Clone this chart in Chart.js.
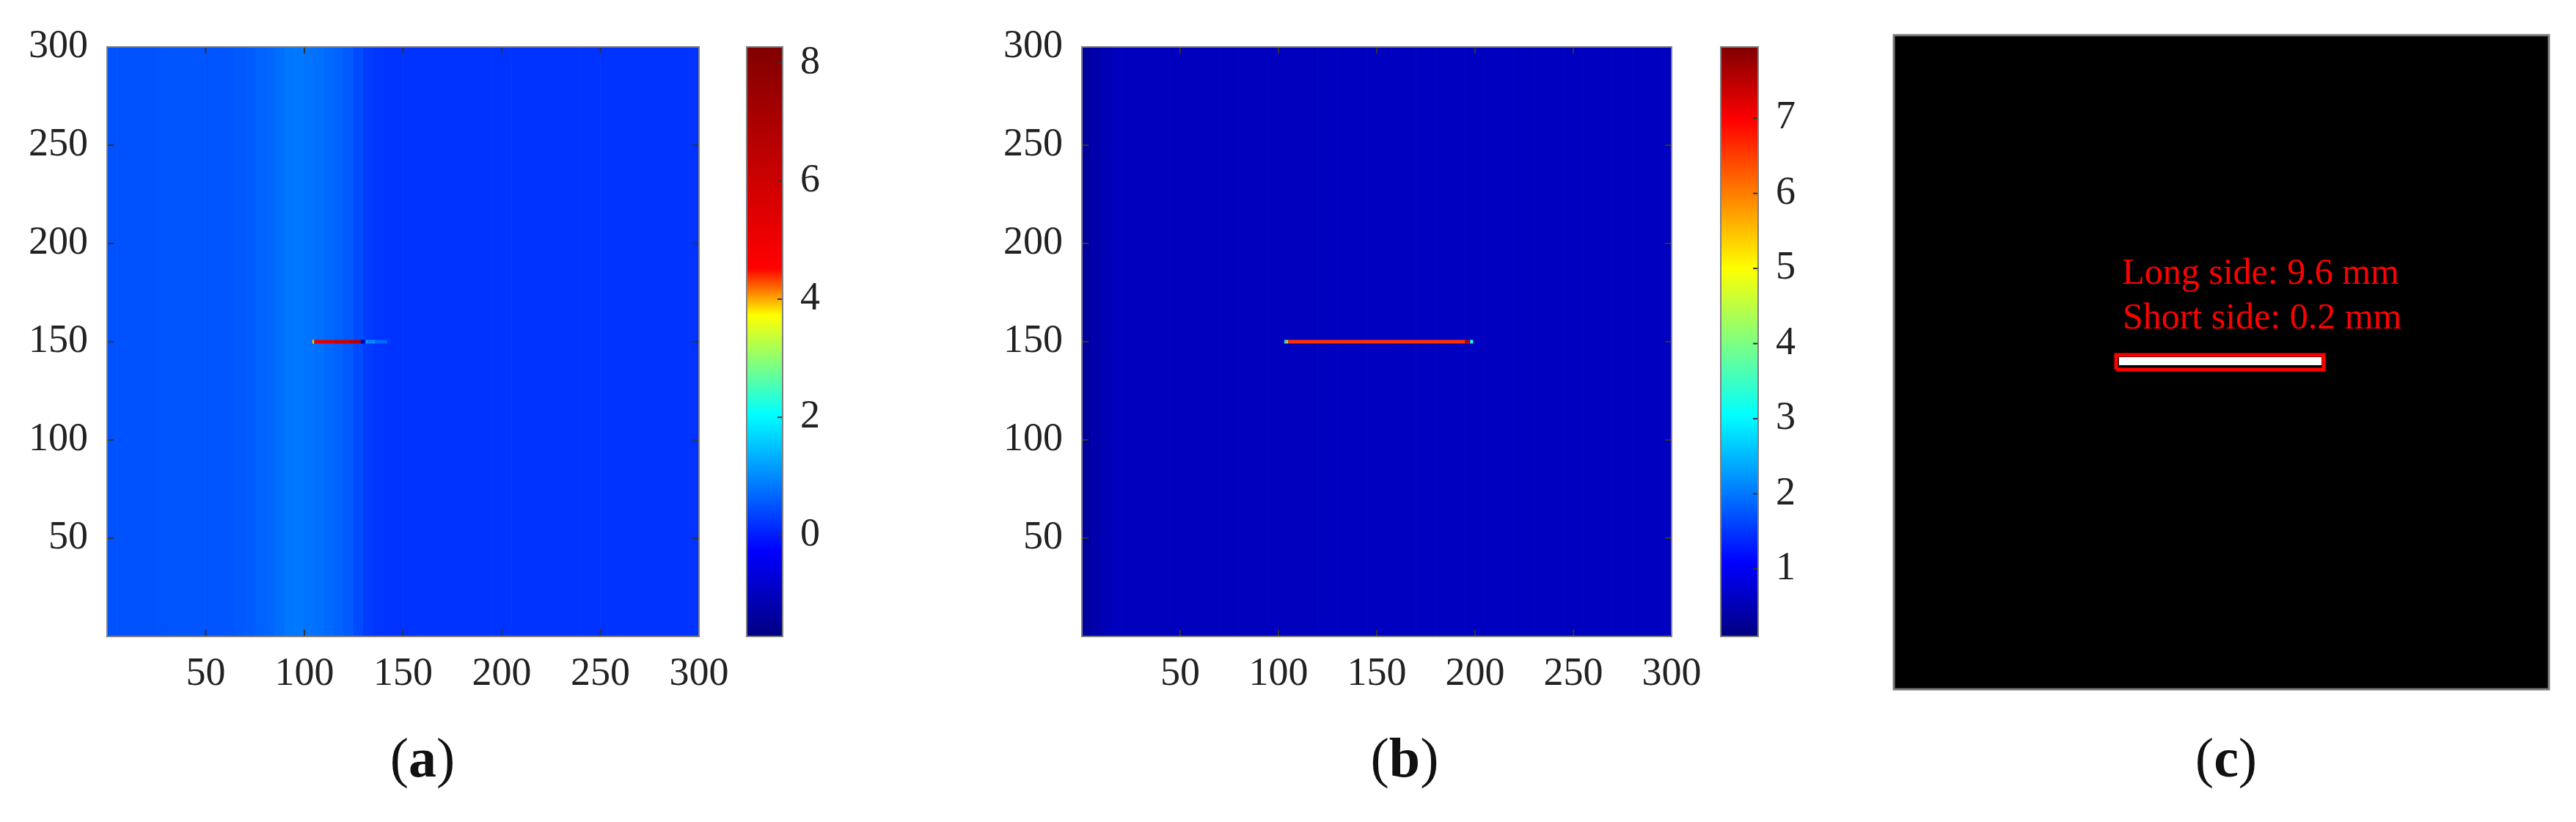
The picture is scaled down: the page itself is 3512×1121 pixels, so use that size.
<!DOCTYPE html>
<html>
<head>
<meta charset="utf-8">
<script src="https://cdn.jsdelivr.net/npm/chart.js@4.4.0/dist/chart.umd.min.js"></script>
<style>
    body { margin: 0; background: #fff; width: 3512px; height: 1121px; position: relative; overflow: hidden; }
    canvas { position: absolute; top: 0; }
    .cap { position: absolute; top: 990px; font-family: "Liberation Serif", serif; font-size: 76px; color: #111; transform: translateX(-50%); white-space: nowrap; }
</style>
</head>
<body>
<canvas id="fieldA" width="1000" height="1000" style="left:0px"></canvas>
<canvas id="barA" width="200" height="1000" style="left:1000px"></canvas>
<canvas id="fieldB" width="1030" height="1000" style="left:1300px"></canvas>
<canvas id="barB" width="200" height="1000" style="left:2330px"></canvas>
<canvas id="maskC" width="972" height="1000" style="left:2540px"></canvas>
<div class="cap" style="left:576px">(<b>a</b>)</div>
<div class="cap" style="left:1915px">(<b>b</b>)</div>
<div class="cap" style="left:3035px">(<b>c</b>)</div>

<script>
// column centres of the image bands (5 px wide)
const bandX = [2.5, 7.5, 12.5, 17.5, 22.5, 27.5, 32.5, 37.5, 42.5, 47.5,
    52.5, 57.5, 62.5, 67.5, 72.5, 77.5, 82.5, 87.5, 92.5, 97.5,
    102.5, 107.5, 112.5, 117.5, 122.5, 127.5, 132.5, 137.5, 142.5, 147.5,
    152.5, 157.5, 162.5, 167.5, 172.5, 177.5, 182.5, 187.5, 192.5, 197.5,
    202.5, 207.5, 212.5, 217.5, 222.5, 227.5, 232.5, 237.5, 242.5, 247.5,
    252.5, 257.5, 262.5, 267.5, 272.5, 277.5, 282.5, 287.5, 292.5, 297.5];

// (a) field value per band
const fieldA = [0.49, 0.49, 0.49, 0.49, 0.49, 0.50, 0.52, 0.52, 0.52, 0.52,
    0.51, 0.51, 0.52, 0.55, 0.58, 0.63, 0.67, 0.75, 0.82, 0.83,
    0.79, 0.76, 0.70, 0.64, 0.56, 0.42, 0.28, 0.22, 0.21, 0.21,
    0.21, 0.21, 0.21, 0.21, 0.21, 0.21, 0.21, 0.21, 0.21, 0.21,
    0.21, 0.21, 0.21, 0.21, 0.21, 0.21, 0.21, 0.21, 0.21, 0.21,
    0.21, 0.21, 0.21, 0.21, 0.21, 0.21, 0.21, 0.21, 0.21, 0.21];
// crack line in (a), at row 150
const crackAX = [104, 105, 115, 123, 128.5, 130, 131, 132.5, 136, 142];
const crackAV = [3.9, 5.3, 5.9, 6.6, -1.6, -0.6, 1.2, 1.0, 0.7, 0.7];
const rangeA = [-1.71, 8.27];

// (b) field value per band
const fieldB = [0.36, 0.45, 0.52, 0.58, 0.58, 0.58, 0.58, 0.58, 0.58, 0.58,
    0.58, 0.58, 0.58, 0.58, 0.58, 0.58, 0.58, 0.58, 0.58, 0.58,
    0.58, 0.58, 0.58, 0.58, 0.60, 0.60, 0.60, 0.60, 0.60, 0.60,
    0.60, 0.60, 0.60, 0.60, 0.60, 0.60, 0.60, 0.60, 0.60, 0.60,
    0.60, 0.60, 0.60, 0.60, 0.60, 0.60, 0.60, 0.60, 0.60, 0.60,
    0.60, 0.60, 0.60, 0.60, 0.60, 0.60, 0.60, 0.60, 0.60, 0.60];
const crackBX = [103, 104, 105, 195, 197.5, 199];
const crackBV = [3.0, 5.5, 6.6, 7.5, 3.2, 3.2];
const rangeB = [0.1, 7.95];

// (c) binary mask: crack and its bounding box
const maskCrackX = [103.1, 195.9];
const maskCrackY = 150.5;
const boxX = [101.8, 196.9];
const boxY = [146.6, 153.4];
const maskNotes = ['Long side: 9.6 mm', 'Short side: 0.2 mm'];

const ticks300 = 50;

// colour maps (position, r, g, b)
const mapA = [[0, 0, 0, 0.5], [0.146, 0, 0, 1], [0.377, 0, 1, 1], [0.545, 1, 1, 0], [0.625, 1, 0, 0], [1, 0.5, 0, 0]];
const jet = [[0, 0, 0, 0.5], [0.125, 0, 0, 1], [0.375, 0, 1, 1], [0.625, 1, 1, 0], [0.875, 1, 0, 0], [1, 0.5, 0, 0]];

Chart.defaults.font.family = '"Liberation Serif", "Times New Roman", serif';
Chart.defaults.color = '#222';

function rgb(r, g, b) {
    return 'rgb(' + Math.round(r * 255) + ',' + Math.round(g * 255) + ',' + Math.round(b * 255) + ')';
}

function colorFor(map, range, v) {
    let p = (v - range[0]) / (range[1] - range[0]);
    p = Math.max(0, Math.min(1, p));
    for (let i = 1; i < map.length; i++) {
        if (p <= map[i][0]) {
            const a = map[i - 1], b = map[i];
            const t = (p - a[0]) / (b[0] - a[0]);
            return rgb(a[1] + (b[1] - a[1]) * t, a[2] + (b[2] - a[2]) * t, a[3] + (b[3] - a[3]) * t);
        }
    }
    const l = map[map.length - 1];
    return rgb(l[1], l[2], l[3]);
}

// box round the plot area plus MATLAB style inward ticks
const frameTicks = {
    id: 'frameTicks',
    afterDatasetsDraw(chart, args, opts) {
        const ctx = chart.ctx;
        const a = chart.chartArea;
        const len = opts.len || 9;
        ctx.save();
        ctx.strokeStyle = '#333';
        ctx.lineWidth = 2;
        (opts.x || []).forEach(side => {
            const s = chart.scales.x;
            s.ticks.forEach(t => {
                if (t.value === 0) return;
                const px = s.getPixelForValue(t.value);
                const y0 = side === 'top' ? a.top : a.bottom;
                const dir = side === 'top' ? 1 : -1;
                ctx.beginPath(); ctx.moveTo(px, y0); ctx.lineTo(px, y0 + dir * len); ctx.stroke();
            });
        });
        (opts.y || []).forEach(side => {
            const s = chart.scales.y;
            s.ticks.forEach(t => {
                if (t.value === 0 && s.min === 0) return;
                const py = s.getPixelForValue(t.value);
                const x0 = side === 'left' ? a.left : a.right;
                const dir = side === 'left' ? 1 : -1;
                ctx.beginPath(); ctx.moveTo(x0, py); ctx.lineTo(x0 + dir * len, py); ctx.stroke();
            });
        });
        ctx.strokeStyle = opts.frame || '#808080';
        ctx.lineWidth = opts.frameWidth || 2;
        ctx.strokeRect(a.left, a.top, a.right - a.left, a.bottom - a.top);
        ctx.restore();
    }
};

const noteText = {
    id: 'noteText',
    afterDatasetsDraw(chart, args, opts) {
        const ctx = chart.ctx;
        const {x, y} = chart.scales;
        ctx.save();
        ctx.fillStyle = opts.color;
        ctx.font = opts.font;
        ctx.textAlign = 'center';
        ctx.textBaseline = 'alphabetic';
        opts.lines.forEach(l => ctx.fillText(l.text, x.getPixelForValue(l.x), y.getPixelForValue(l.y)));
        ctx.restore();
    }
};

function makeField(id, values, crackX, crackV, map, range, leftW, padRight) {
    const ctx = document.getElementById(id).getContext('2d');
    const config = {
        type: 'bar',
        data: {
            datasets: [
                {
                    type: 'line',
                    data: crackX.map(x => ({x: x, y: 150})),
                    borderWidth: 5,
                    borderCapStyle: 'butt',
                    pointRadius: 0,
                    segment: {
                        borderColor: c => colorFor(map, range, crackV[c.p0DataIndex])
                    },
                    order: 0
                },
                {
                    data: bandX.map(x => ({x: x, y: [0, 300]})),
                    backgroundColor: values.map(v => colorFor(map, range, v)),
                    borderWidth: 0,
                    barPercentage: 1,
                    categoryPercentage: 1,
                    order: 1
                }
            ]
        },
        options: {
            responsive: false,
            animation: false,
            events: [],
            layout: { padding: { top: 64, right: padRight, left: 0, bottom: 0 } },
            plugins: {
                legend: { display: false },
                tooltip: { enabled: false },
                frameTicks: { x: ['top', 'bottom'], y: ['left', 'right'], len: 9 }
            },
            scales: {
                x: {
                    type: 'linear', min: 0, max: 300, offset: false,
                    // invisible tick marks carry the label gap (ticks.padding would eat into the right margin)
                    grid: { display: true, drawOnChartArea: false, drawTicks: true, tickLength: 19, color: 'rgba(0,0,0,0)' },
                    border: { display: false },
                    ticks: { stepSize: ticks300, padding: 0, maxRotation: 0, font: { size: 54 },
                        callback: v => (v === 0 ? '' : v) },
                    afterFit: s => { s.height = 132; }
                },
                y: {
                    type: 'linear', min: 0, max: 300,
                    grid: { display: false }, border: { display: false },
                    ticks: { stepSize: ticks300, padding: 18, font: { size: 54 },
                        callback: v => (v === 0 ? '' : v) },
                    afterFit: s => { s.width = leftW; }
                }
            }
        },
        plugins: [frameTicks]
    };
    return new Chart(ctx, config);
}

function makeColorbar(id, map, range, step, padLeft) {
    const ctx = document.getElementById(id).getContext('2d');
    const config = {
        type: 'bar',
        data: {
            labels: ['cb'],
            datasets: [{
                data: [[range[0], range[1]]],
                backgroundColor: c => {
                    const a = c.chart.chartArea;
                    if (!a) return 'transparent';
                    const g = c.chart.ctx.createLinearGradient(0, a.bottom, 0, a.top);
                    map.forEach(s => g.addColorStop(s[0], rgb(s[1], s[2], s[3])));
                    return g;
                },
                borderWidth: 0,
                barPercentage: 1,
                categoryPercentage: 1
            }]
        },
        options: {
            responsive: false,
            animation: false,
            events: [],
            layout: { padding: { top: 64, bottom: 132, left: padLeft, right: 0 } },
            plugins: {
                legend: { display: false },
                tooltip: { enabled: false },
                frameTicks: { y: ['right'], len: 7 }
            },
            scales: {
                x: { display: false },
                y: {
                    position: 'right', min: range[0], max: range[1],
                    grid: { display: false }, border: { display: false },
                    ticks: { stepSize: step, includeBounds: false, padding: 16, font: { size: 54 } },
                    afterFit: s => { s.width = 133; }
                }
            }
        },
        plugins: [frameTicks]
    };
    return new Chart(ctx, config);
}

function makeMask(id) {
    const ctx = document.getElementById(id).getContext('2d');
    const config = {
        type: 'bar',
        data: {
            datasets: [
                {
                    type: 'line',
                    data: [
                        {x: boxX[0], y: boxY[0]}, {x: boxX[1], y: boxY[0]},
                        {x: boxX[1], y: boxY[1]}, {x: boxX[0], y: boxY[1]}, {x: boxX[0], y: boxY[0]}
                    ],
                    borderColor: '#ff0000',
                    borderWidth: 5,
                    pointRadius: 0,
                    order: 0
                },
                {
                    type: 'line',
                    data: maskCrackX.map(x => ({x: x, y: maskCrackY})),
                    borderColor: '#ffffff',
                    borderWidth: 11,
                    borderCapStyle: 'butt',
                    pointRadius: 0,
                    order: 1
                },
                {
                    data: [{x: 150, y: [0, 300]}],
                    backgroundColor: '#000000',
                    borderWidth: 0,
                    barPercentage: 1,
                    categoryPercentage: 1,
                    order: 2
                }
            ]
        },
        options: {
            responsive: false,
            animation: false,
            events: [],
            layout: { padding: { top: 48, right: 37, left: 0, bottom: 0 } },
            plugins: {
                legend: { display: false },
                tooltip: { enabled: false },
                frameTicks: { frame: '#7a7a7a', frameWidth: 3 },
                noteText: {
                    color: '#ff0000',
                    font: '50px "Liberation Serif"',
                    lines: [
                        { text: maskNotes[0], x: 168, y: 186 },
                        { text: maskNotes[1], x: 168.7, y: 165.5 }
                    ]
                }
            },
            scales: {
                x: {
                    type: 'linear', min: 0, max: 300, offset: false,
                    grid: { display: false }, border: { display: false },
                    ticks: { stepSize: 300, display: false },
                    afterFit: s => { s.height = 60; }
                },
                y: {
                    type: 'linear', min: 0, max: 300,
                    grid: { display: false }, border: { display: false },
                    ticks: { display: false },
                    afterFit: s => { s.width = 42; }
                }
            }
        },
        plugins: [frameTicks, noteText]
    };
    return new Chart(ctx, config);
}

window.onload = function () {
    makeField('fieldA', fieldA, crackAX, crackAV, mapA, rangeA, 146, 47);
    makeColorbar('barA', mapA, rangeA, 2, 18);
    makeField('fieldB', fieldB, crackBX, crackBV, jet, rangeB, 175, 51);
    makeColorbar('barB', jet, rangeB, 1, 16);
    makeMask('maskC');
};
</script>
</body>
</html>
